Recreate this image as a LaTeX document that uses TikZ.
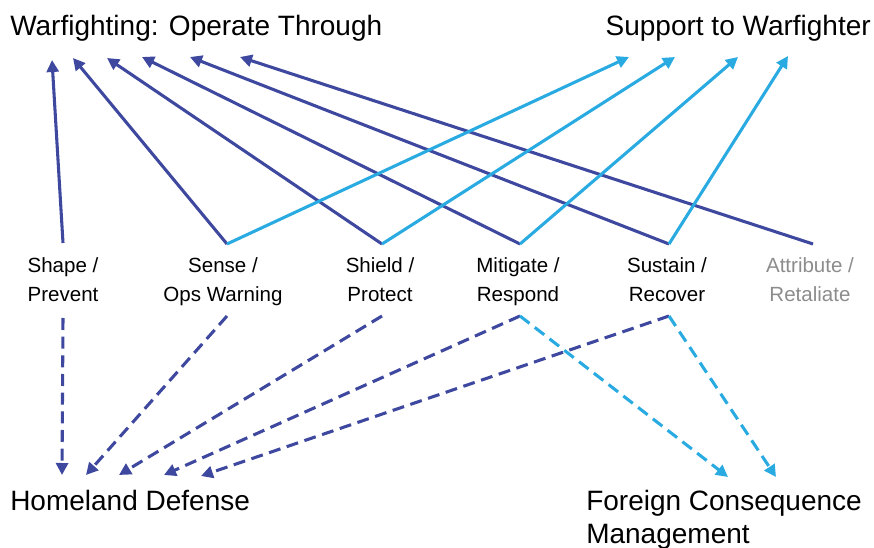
\documentclass[tikz,border=0pt]{standalone}
\usepackage{fontspec}
\setmainfont{Liberation Sans}
\usetikzlibrary{arrows.meta}
\definecolor{navyline}{HTML}{3D489E}
\definecolor{skyline}{HTML}{29ABE2}
\definecolor{mutedtext}{HTML}{8C8C8C}
\begin{document}
\begin{tikzpicture}[x=0.75pt,y=-0.75pt,
  heading/.style={inner sep=0pt,font=\fontsize{21}{24.75}\selectfont},
  role/.style={inner sep=0pt,align=center,font=\fontsize{15.4}{21.75}\selectfont},
  link/.style={line width=2.3pt,-{Triangle[length=9pt,width=9pt]}},
  solidnavy/.style={link,navyline},
  solidsky/.style={link,skyline},
  dashnavy/.style={link,navyline,dash pattern=on 9pt off 5pt},
  dashsky/.style={link,skyline,dash pattern=on 9pt off 5pt}]
\useasboundingbox (0,0) rectangle (874,548);

% headings (multi-line nodes sit on the baseline of their last line)
\node[heading,anchor=base west] (war) at (10,36) {Warfighting: Operate Through};
\node[heading,anchor=base east] (sup) at (871,36) {Support to Warfighter};
\node[heading,anchor=base west] (hd) at (10,510) {Homeland Defense};
\node[heading,anchor=base west,align=left] (fcm) at (586,543) {Foreign Consequence\\Management};

% mission areas
\node[role,anchor=base] (shape) at (63,302) {Shape /\\Prevent};
\node[role,anchor=base] (sense) at (223,302) {Sense /\\Ops Warning};
\node[role,anchor=base] (shield) at (380,302) {Shield /\\Protect};
\node[role,anchor=base] (mit) at (518,302) {Mitigate /\\Respond};
\node[role,anchor=base] (sus) at (667,302) {Sustain /\\Recover};
\node[role,anchor=base,text=mutedtext] (att) at (810,302) {Attribute /\\Retaliate};

% connection points above and below the mission areas
\coordinate (shapeT) at (63,243);
\coordinate (senseT) at (227,244);
\coordinate (shieldT) at (382,244);
\coordinate (mitT) at (520,244);
\coordinate (susT) at (669,244);
\coordinate (attT) at (813,244);
\coordinate (shapeB) at (63,318);
\coordinate (senseB) at (227,316);
\coordinate (shieldB) at (382,316);
\coordinate (mitB) at (520,316);
\coordinate (susB) at (669,316);

% arrow targets under the headings
\coordinate (w1) at (52,60);
\coordinate (w2) at (73,58);
\coordinate (w3) at (107,58);
\coordinate (w4) at (142,57);
\coordinate (w5) at (190,57);
\coordinate (w6) at (240,57);
\coordinate (s1) at (629,57);
\coordinate (s2) at (675,57);
\coordinate (s3) at (738,57);
\coordinate (s4) at (788,56);
\coordinate (h1) at (62,475);
\coordinate (h2) at (86,475);
\coordinate (h3) at (119,475);
\coordinate (h4) at (164,475);
\coordinate (h5) at (201,476);
\coordinate (f1) at (728,477);
\coordinate (f2) at (776,477);

% warfighting links
\draw[solidnavy] (shapeT) -- (w1);
\draw[solidnavy] (senseT) -- (w2);
\draw[solidnavy] (shieldT) -- (w3);
\draw[solidnavy] (mitT) -- (w4);
\draw[solidnavy] (susT) -- (w5);
\draw[solidnavy] (attT) -- (w6);

% support links
\draw[solidsky] (senseT) -- (s1);
\draw[solidsky] (shieldT) -- (s2);
\draw[solidsky] (mitT) -- (s3);
\draw[solidsky] (susT) -- (s4);

% homeland defense links
\draw[dashnavy] (shapeB) -- (h1);
\draw[dashnavy] (senseB) -- (h2);
\draw[dashnavy] (shieldB) -- (h3);
\draw[dashnavy] (mitB) -- (h4);
\draw[dashnavy] (susB) -- (h5);

% foreign consequence management links
\draw[dashsky] (mitB) -- (f1);
\draw[dashsky] (susB) -- (f2);
\end{tikzpicture}
\end{document}
